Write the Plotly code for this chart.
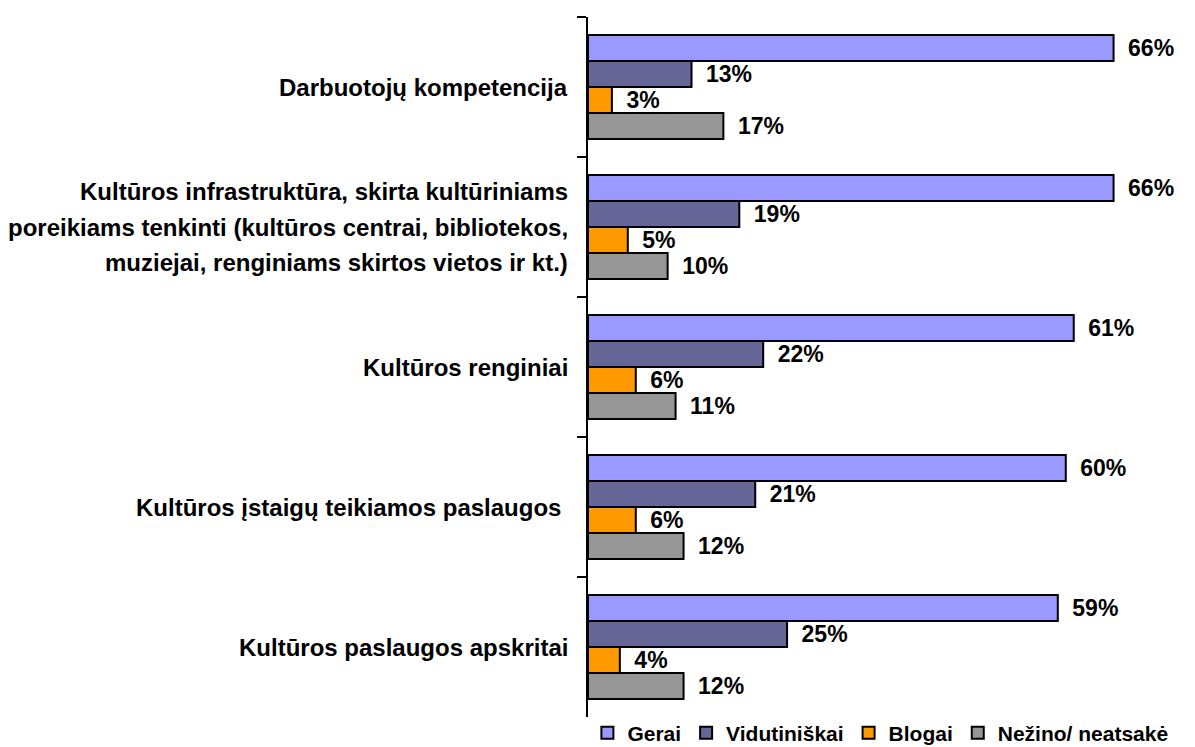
import plotly.graph_objects as go

categories = [
    "Darbuotojų kompetencija",
    "Kultūros infrastruktūra, skirta kultūriniams<br>poreikiams tenkinti (kultūros centrai, bibliotekos,<br>muziejai, renginiams skirtos vietos ir kt.)",
    "Kultūros renginiai",
    "Kultūros įstaigų teikiamos paslaugos ",
    "Kultūros paslaugos apskritai",
]
series_names = ["Gerai", "Vidutiniškai", "Blogai", "Nežino/ neatsakė"]
gerai = [66, 66, 61, 60, 59]
vidutiniskai = [13, 19, 22, 21, 25]
blogai = [3, 5, 6, 6, 4]
nezino = [17, 10, 11, 12, 12]
colors = ["#9999FF", "#666699", "#FF9900", "#969696"]

FONT = "Liberation Sans, Arial, sans-serif"

fig = go.Figure()
for name, vals, col in zip(series_names, [gerai, vidutiniskai, blogai, nezino], colors):
    fig.add_trace(go.Bar(
        y=categories, x=vals, name=name, orientation="h",
        marker=dict(color=col, line=dict(color="black", width=2)),
        text=[f"{v}%" for v in vals], textposition="outside",
        texttemplate="\u2002%{text}",
        textfont=dict(family=FONT, size=23, color="black", weight="bold"),
        cliponaxis=False,
    ))

LINE_SPACING = 35.5
for c in categories:
    lines = c.split("<br>")
    n = len(lines)
    for i, ln in enumerate(lines):
        fig.add_annotation(
            x=0, xref="paper", y=c, yref="y", text=f"<b>{ln}</b>",
            xanchor="right", yanchor="middle", align="center",
            xshift=-18,
            yshift=((n - 1) / 2 - i) * LINE_SPACING,
            showarrow=False,
            font=dict(family=FONT, size=24, color="black"),
        )

fig.update_layout(
    width=1187, height=739,
    margin=dict(l=580, r=5, t=9, b=30, autoexpand=False),
    paper_bgcolor="white", plot_bgcolor="white",
    barmode="group", bargap=0.257, bargroupgap=0,
    showlegend=True,
    legend=dict(orientation="h", x=-0.001, xanchor="left", y=-0.023, yanchor="middle",
                font=dict(family=FONT, size=21, color="black", weight="bold"),
                itemwidth=30, tracegroupgap=0, bgcolor="rgba(0,0,0,0)"),
    xaxis=dict(range=[0, 75.6], visible=False),
    yaxis=dict(autorange="reversed", showticklabels=False, showline=True,
               linecolor="black", linewidth=2, ticks="outside", ticklen=9,
               tickwidth=2, tickcolor="black", tickson="boundaries",
               showgrid=False, zeroline=False),
    font=dict(family=FONT),
)

fig.write_html("out.html")
